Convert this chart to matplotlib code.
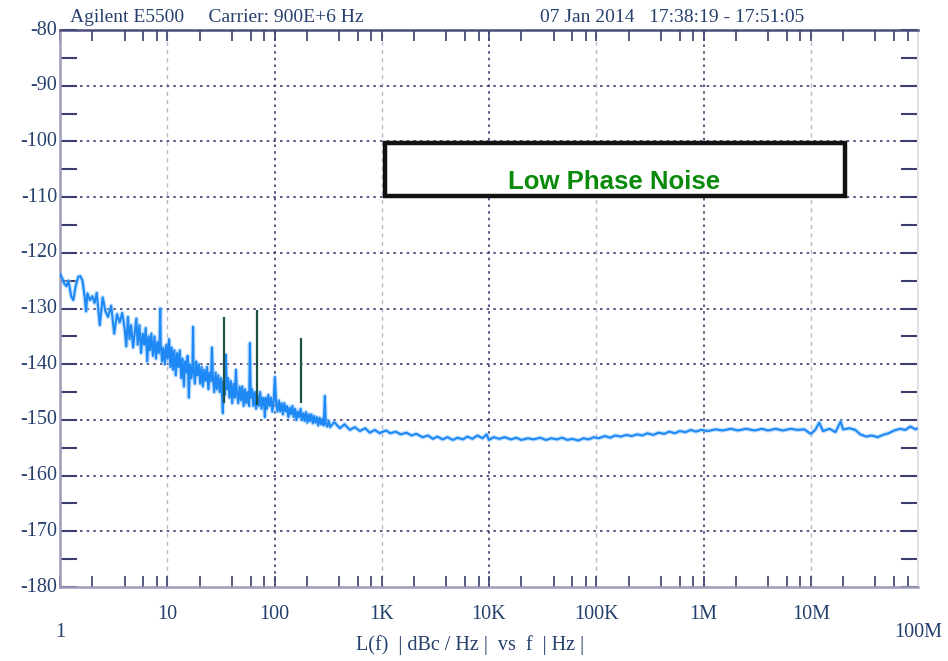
import numpy as np
import matplotlib
matplotlib.use("Agg")
import matplotlib.pyplot as plt
from matplotlib.patches import Rectangle
from matplotlib.ticker import FixedLocator, NullFormatter

# ---------------- data ----------------
freq_hz = [
    1.0, 1.05, 1.1, 1.15, 1.2, 1.27, 1.33, 1.4, 1.48, 1.55, 1.62, 1.7, 1.75, 1.8, 1.9, 2.0,
    2.1, 2.2, 2.35, 2.5, 2.65, 2.8, 3.0, 3.2, 3.4, 3.6, 3.8,
    4.0, 4.15, 4.3, 4.45, 4.6, 4.8, 5.0, 5.15, 5.3, 5.5, 5.7, 5.9, 6.1, 6.3, 6.5, 6.7,
    6.9, 7.1, 7.35, 7.6, 7.85, 8.1, 8.35, 8.5, 8.6, 8.7, 8.95, 9.2, 9.5, 9.8,
    10.1, 10.4, 10.7, 11.0, 11.3, 11.65, 12.0, 12.35, 12.7, 13.1, 13.5, 13.9, 14.3, 14.7,
    15.1, 15.5, 15.9, 16.3, 16.8, 17.2, 17.4, 17.6, 18.1, 18.6, 19.1, 19.7, 20.3, 20.9,
    21.5, 22.1, 22.8, 23.5, 24.2, 24.9, 25.6, 26.1, 26.6, 27.4, 28.2, 29.0, 29.9, 30.8,
    31.7, 32.5, 33.0, 33.5, 34.4, 35.2, 35.9, 36.9, 38.0, 39.1, 40.3, 41.5, 42.7, 43.7,
    44.6, 45.9, 47.3, 48.7, 50.1, 51.6, 53.1, 54.7, 56.3, 58.0, 59.0, 60.0, 61.7, 63.5,
    65.4, 67.3, 69.3, 71.4, 73.5, 75.7, 77.9, 80.2, 81.4, 82.6, 85.0, 87.5, 90.1, 92.8,
    95.5, 98.3, 100.9, 103.5, 106.6, 109.7, 113.0, 116.3, 119.8, 123.3, 127.0, 130.7,
    134.6, 138.6, 142.7, 146.9, 151.3, 155.8, 160.4, 165.1, 170.0, 175.0, 180.2, 185.6,
    191.0, 196.7, 202.5, 208.5, 214.7, 221.1, 227.6, 234.3, 241.3, 248.4, 255.7, 263.3,
    271.1, 279.1, 287.4, 295.0, 300.0, 310.0, 320.0, 330.0,
    360.0, 407.0, 450.0, 505.0, 560.0, 625.0, 700.0, 775.0, 860.0, 960.0,
    1000.0, 1100.0, 1200.0, 1350.0, 1500.0, 1700.0, 1900.0, 2100.0, 2400.0, 2700.0,
    3000.0, 3300.0, 3700.0, 4100.0, 4600.0, 5100.0, 5700.0, 6300.0, 7000.0, 7800.0,
    8700.0, 9500.0, 1.0e4, 1.1e4, 1.25e4, 1.4e4, 1.6e4, 1.8e4, 2.0e4, 2.3e4, 2.6e4,
    3.0e4, 3.4e4, 3.8e4, 4.3e4, 4.8e4, 5.4e4, 6.0e4, 6.8e4, 7.6e4, 8.5e4, 9.5e4,
    1.05e5, 1.2e5, 1.35e5, 1.5e5, 1.7e5, 1.9e5, 2.15e5, 2.4e5, 2.7e5, 3.0e5, 3.4e5,
    3.8e5, 4.3e5, 4.8e5, 5.4e5, 6.0e5, 6.8e5, 7.6e5, 8.5e5, 9.5e5,
    1.1e6, 1.3e6, 1.5e6, 1.8e6, 2.1e6, 2.5e6, 3.0e6, 3.5e6, 4.0e6, 4.7e6, 5.5e6,
    6.5e6, 7.5e6, 8.7e6, 1.0e7, 1.1e7, 1.2e7, 1.3e7, 1.5e7, 1.7e7, 1.9e7, 2.0e7,
    2.3e7, 2.6e7, 2.9e7, 3.3e7, 3.7e7, 4.2e7, 4.7e7, 5.3e7, 6.0e7, 6.8e7, 7.6e7,
    8.5e7, 9.5e7, 1.0e8,
]
noise_dbc = [
    -123.8, -124.6, -125.6, -126.0, -125.0, -127.8, -128.5, -126.0, -124.3, -124.2, -125.0,
    -128.0, -130.5, -127.3, -128.5, -127.8,
    -129.0, -127.2, -133.0, -128.0, -130.5, -131.5, -129.5, -134.5, -131.0, -132.5, -130.8,
    -133.5, -136.8, -131.5, -135.5, -133.0, -137.0, -134.0, -131.8, -136.5, -133.0, -138.0,
    -134.5, -136.5, -133.5, -139.5, -135.0,
    -137.5, -134.5, -138.5, -135.0, -139.0, -136.0, -138.0, -135.5, -130.0, -136.5, -139.5,
    -137.0, -140.0, -136.5,
    -139.0, -135.5, -140.5, -137.0, -141.0, -137.5, -142.0, -138.0, -140.5, -137.5, -142.5,
    -139.0, -144.0, -139.5,
    -141.5, -138.5, -146.0, -140.0, -142.5, -140.0, -133.3, -141.0, -143.5, -139.5, -142.0,
    -140.0, -143.5, -140.5,
    -144.0, -141.0, -143.0, -140.5, -144.5, -141.5, -143.0, -137.0, -142.0, -145.0, -141.5,
    -144.5, -142.0, -145.0,
    -142.5, -146.0, -148.8, -143.0, -145.5, -138.3, -144.5, -142.5, -146.0, -143.0, -147.0,
    -143.5, -146.0, -141.0,
    -145.0, -147.0, -144.0, -146.5, -144.0, -147.5, -144.5, -147.0, -145.0, -147.5, -136.2,
    -146.0, -144.5, -147.5,
    -145.0, -148.0, -145.5, -147.5, -145.0, -148.0, -146.0, -147.5, -149.5, -146.0, -148.0,
    -145.5, -147.5, -146.0,
    -148.5, -146.5, -142.3, -147.0, -148.5, -146.5, -148.5, -147.0, -149.0, -147.0, -148.5,
    -147.5,
    -149.5, -147.8, -149.0, -147.5, -149.5, -148.0, -150.0, -148.5, -149.5, -148.0, -150.0,
    -148.8,
    -150.2, -148.6, -150.5, -149.0, -150.2, -149.0, -150.6, -149.3, -150.5, -149.5, -151.0,
    -149.6,
    -150.8, -149.8, -151.0, -145.7, -150.5, -151.2, -150.2, -151.3,
    -150.4, -151.5, -150.8, -151.8, -151.3, -152.0, -151.5, -152.3, -151.8, -152.4,
    -152.2, -151.9, -152.4, -152.1, -152.6, -152.3, -152.8, -152.5, -153.1, -152.8,
    -153.4, -153.0, -153.5, -153.1, -153.6, -153.2, -153.5, -153.0, -153.4, -152.8,
    -153.3, -152.6, -153.6, -153.1, -153.4, -153.1, -153.5, -153.2, -153.6, -153.3, -153.5,
    -153.2, -153.6, -153.3, -153.5, -153.2, -153.6, -153.4, -153.7, -153.3, -153.5, -153.1,
    -153.3, -152.9, -153.2, -152.8, -153.0, -152.7, -152.9, -152.6, -152.8, -152.4, -152.7,
    -152.3, -152.5, -152.1, -152.4, -152.0, -152.2, -151.8, -152.1, -151.8,
    -152.0, -151.7, -151.9, -151.6, -151.9, -151.6, -151.9, -151.6, -151.9, -151.6, -151.9,
    -151.6, -151.8, -151.7, -152.5, -151.8, -150.5, -152.0, -151.6, -152.2, -150.3, -151.7,
    -151.5, -151.8, -152.6, -153.0, -152.8, -153.1, -152.7, -152.4, -151.9, -151.6, -151.8,
    -151.2, -151.7, -151.5,
]

spur_hz = [33.8, 68.6, 176.0]
spur_top_dbc = [-131.5, -130.3, -135.3]
spur_base_dbc = [-147.0, -147.3, -147.0]

x_tick_values = [1, 10, 100, 1e3, 1e4, 1e5, 1e6, 1e7, 1e8]
x_tick_labels = ["1", "10", "100", "1K", "10K", "100K", "1M", "10M", "100M"]
y_tick_values = list(range(-180, -79, 10))

# ---------------- style ----------------
navy = "#3a3d6e"
label_col = "#26406e"
serif = ["Liberation Serif", "DejaVu Serif"]

fig = plt.figure(figsize=(9.48, 6.61), dpi=100)
ax = fig.add_axes([60 / 948, 1 - 587 / 661, 858 / 948, 557 / 661])
ax.set_xscale("log")
ax.set_xlim(1, 1e8)
ax.set_ylim(-180, -80)

# grid
for i, v in enumerate(x_tick_values[1:-1]):
    if i % 2 == 0:
        ax.axvline(v, color="#b8b8c8", lw=1.0, ls=(0, (3, 3)), zorder=1)
    else:
        ax.axvline(v, color=navy, lw=1.2, ls=(0, (1.5, 2.5)), zorder=1)
for v in y_tick_values[1:-1]:
    ax.axhline(v, color=navy, lw=1.2, ls=(0, (1.5, 2.5)), zorder=1)

# trace
ax.plot(freq_hz, noise_dbc, color="#94caff", lw=3.2, alpha=0.6, zorder=2)
ax.plot(freq_hz, noise_dbc, color="#1e88f5", lw=1.5, zorder=3)
ax.vlines(spur_hz, spur_base_dbc, spur_top_dbc, color="#1d4f45", lw=1.6, zorder=4)

# ticks
ax.set_xticks(x_tick_values)
ax.set_xticklabels([])
minor = [m * 10 ** d for d in range(0, 8) for m in (2, 4, 6, 8)]
ax.xaxis.set_minor_locator(FixedLocator(minor))
ax.xaxis.set_minor_formatter(NullFormatter())
ax.tick_params(axis="x", which="both", direction="in", top=True, bottom=True,
               length=8, width=1.2, color=navy, labelbottom=False)
ax.set_yticks(list(range(-180, -79, 5)))
ax.set_yticklabels([])
ax.tick_params(axis="y", which="major", direction="in", left=True, right=True,
               length=12, width=1.5, color=navy, labelleft=False)

for v in y_tick_values:
    ax.annotate(f"{v}", xy=(0, v), xycoords=("axes fraction", "data"),
                xytext=(-2, 0), textcoords="offset points", ha="right", va="center",
                fontsize=14.5, family=serif, color=label_col)

for v, lab in zip(x_tick_values, x_tick_labels):
    low = lab in ("1", "100M")
    ax.annotate(lab, xy=(v, 0), xycoords=("data", "axes fraction"),
                xytext=(0, -33 if low else -20), textcoords="offset points",
                ha="center", va="center", fontsize=14.5, family=serif, color=label_col)

fig.text(470 / 948, 1 - 645 / 661, "L(f)  | dBc / Hz |  vs  f  | Hz |", ha="center",
         va="center", fontsize=14.5, family=serif, color=label_col)
fig.text(70 / 948, 1 - 17 / 661, "Agilent E5500     Carrier: 900E+6 Hz", ha="left",
         va="center", fontsize=14, family=serif, color=label_col)
fig.text(540 / 948, 1 - 17 / 661, "07 Jan 2014   17:38:19 - 17:51:05", ha="left",
         va="center", fontsize=14, family=serif, color=label_col)

# spines
ax.spines["left"].set_color("#9c9cba")
ax.spines["left"].set_linewidth(1.8)
ax.spines["bottom"].set_color("#9c9cba")
ax.spines["bottom"].set_linewidth(1.8)
ax.spines["top"].set_color("#4a4c7c")
ax.spines["top"].set_linewidth(1.8)
ax.spines["right"].set_color("#e2e2e6")
ax.spines["right"].set_linewidth(1.5)

# annotation box
ax.add_patch(Rectangle((0.379, 0.702), 0.536, 0.095, transform=ax.transAxes,
                       fill=True, facecolor="white", edgecolor="#111111", lw=3.2, zorder=5))
ax.text(0.646, 0.727, "Low Phase Noise", transform=ax.transAxes, ha="center", va="center",
        fontsize=18.5, fontweight="bold", family=["Liberation Sans", "DejaVu Sans"],
        color="#0a8a0a", zorder=6)

fig.savefig("out.png", dpi=100)
